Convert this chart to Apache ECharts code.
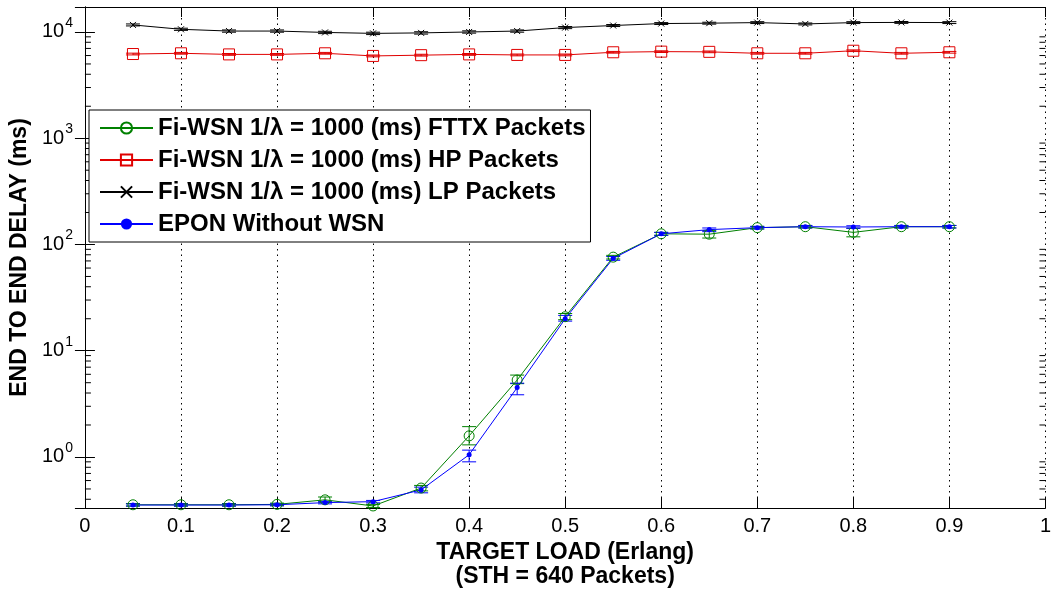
<!DOCTYPE html>
<html><head><meta charset="utf-8">
<script src="https://cdn.jsdelivr.net/npm/echarts@6/dist/echarts.min.js"></script>
<style>html,body{margin:0;padding:0;background:#fff}#c{width:1054px;height:594px}</style>
</head><body><div id="c"></div>
<script>
// ---- data ----
const loads = [0.05,0.1,0.15,0.2,0.25,0.3,0.35,0.4,0.45,0.5,0.55,0.6,0.65,0.7,0.75,0.8,0.85,0.9];
const fttx     = [0.355,0.355,0.355,0.358,0.395,0.346,0.51,1.58,5.3,20.9,76,126,125,144,147,130,147,147];
const fttxLow  = [0.345,0.345,0.345,0.348,0.375,0.335,0.48,1.30,4.9,19.6,73,122,115,140,143,118,143,143];
const fttxHigh = [0.365,0.365,0.365,0.368,0.420,0.358,0.54,1.93,5.9,22.4,79,130,135,148,151,142,151,151];
const hp       = [6200,6300,6150,6150,6300,5950,6050,6150,6080,6080,6440,6530,6500,6300,6300,6660,6300,6440];
const hpErr    = [120,120,120,120,120,120,120,120,120,120,120,120,120,120,120,120,120,120];
const lp       = [11650,10600,10200,10200,9900,9700,9800,10000,10200,11000,11500,12000,12100,12250,11900,12250,12300,12250];
const lpErr    = [250,250,250,250,250,250,250,250,250,250,250,250,250,250,250,250,250,250];
const epon     = [0.353,0.353,0.353,0.355,0.372,0.38,0.49,1.05,4.5,20,74,126,138,144,147,146,147,147];
const eponLow  = [0.345,0.345,0.345,0.347,0.362,0.37,0.46,0.90,3.85,19.0,71,122,132,140,143,142,143,143];
const eponHigh = [0.361,0.361,0.361,0.363,0.382,0.39,0.52,1.16,4.95,21.5,77,130,143,148,151,150,151,151];
const seriesNames = [
  'Fi-WSN 1/\u03bb = 1000 (ms) FTTX Packets',
  'Fi-WSN 1/\u03bb = 1000 (ms) HP Packets',
  'Fi-WSN 1/\u03bb = 1000 (ms) LP Packets',
  'EPON Without WSN'
];
const xTickLabels = ['0','0.1','0.2','0.3','0.4','0.5','0.6','0.7','0.8','0.9','1'];
const yTickExps = [0,1,2,3,4];
const yMinorTicks = [0.4,0.5,0.6,0.7,0.8,0.9,2,3,4,5,6,7,8,9,20,30,40,50,60,70,80,90,200,300,400,500,600,700,800,900,2000,3000,4000,5000,6000,7000,8000,9000];

// ---- helpers ----
const FONT = 'Liberation Sans';
function pairs(ys){ return loads.map((x,i)=>[x, ys[i]]); }
function errData(lo, hi){ return loads.map((x,i)=>[x, lo[i], hi[i]]); }
function errDataSym(ys, e){ return loads.map((x,i)=>[x, ys[i]-e[i], ys[i]+e[i]]); }
function errRender(color){
  return function(params, api){
    const x = api.value(0), lo = api.value(1), hi = api.value(2);
    const p1 = api.coord([x, lo]), p2 = api.coord([x, hi]);
    const w = 7, st = {stroke: color, lineWidth: 1};
    return {type:'group', children:[
      {type:'line', shape:{x1:p1[0],y1:p1[1],x2:p2[0],y2:p2[1]}, style:st},
      {type:'line', shape:{x1:p1[0]-w,y1:p1[1],x2:p1[0]+w,y2:p1[1]}, style:st},
      {type:'line', shape:{x1:p2[0]-w,y1:p2[1],x2:p2[0]+w,y2:p2[1]}, style:st}
    ]};
  };
}
function errSeries(data, color){
  return {type:'custom', data, renderItem: errRender(color), encode:{x:0, y:[1,2]}, silent:true, z:3};
}
function lineSeries(name, ys, color, symbol, size, filled){
  return {type:'line', name, data: pairs(ys), symbol, symbolSize:size, showAllSymbol:true,
    lineStyle:{color, width:1},
    itemStyle: filled ? {color} : {color:'none', borderColor:color, borderWidth:1},
    z:3};
}
const yAxisBase = {
  type:'log', logBase:10, min:0.331, max:17180,
  axisLine:{show:true, lineStyle:{color:'#000', width:1}},
  axisTick:{show:true, inside:true, length:10, lineStyle:{color:'#000', width:1}},
  splitLine:{show:false}, minorTick:{show:false}
};
const xAxisBase = {
  type:'value', min:0, max:1, interval:0.1,
  axisLine:{show:true, onZero:false, lineStyle:{color:'#000', width:1}},
  axisTick:{show:true, inside:true, length:10, lineStyle:{color:'#000', width:1}}
};

const chart = echarts.init(document.getElementById('c'), null, {renderer:'canvas'});
chart.setOption({
  animation:false,
  backgroundColor:'#fff',
  grid:{left:84, right:4, top:7, bottom:86, containLabel:false},
  legend:{
    orient:'vertical', left:89, top:110, padding:[6,5,6,10], itemGap:8,
    itemWidth:53, itemHeight:14, backgroundColor:'#fff', borderColor:'#000', borderWidth:1, borderRadius:0,
    textStyle:{fontFamily:FONT, fontWeight:'bold', fontSize:24, color:'#000', lineHeight:20},
    data: seriesNames
  },
  xAxis:[
    Object.assign({}, xAxisBase, {
      position:'bottom',
      axisLabel:{margin:8, fontSize:20, color:'#000', fontFamily:FONT,
        formatter: v => xTickLabels[Math.round(v*10)]},
      splitLine:{show:true, lineStyle:{color:'#000', type:[1.5,4], width:1}},
      name:'TARGET LOAD (Erlang)\n(STH = 640 Packets)', nameLocation:'middle', nameGap:33,
      nameTextStyle:{fontSize:23, fontWeight:'bold', color:'#000', lineHeight:24, fontFamily:FONT}
    }),
    Object.assign({}, xAxisBase, {position:'top', axisLabel:{show:false}, splitLine:{show:false}})
  ],
  yAxis:[
    Object.assign({}, yAxisBase, {
      position:'left',
      axisLabel:{margin:12, padding:[0,0,6,0],
        formatter: v => {
          const e = Math.round(Math.log10(v));
          if (Math.abs(Math.log10(v) - e) > 1e-6 || yTickExps.indexOf(e) < 0) return '';
          return '{b|10}{s|' + e + '}';
        },
        rich:{
          b:{fontSize:20, color:'#000', fontFamily:FONT, padding:[6,0,0,0], verticalAlign:'bottom'},
          s:{fontSize:14, color:'#000', fontFamily:FONT, verticalAlign:'top', padding:[0,0,0,1]}
        }},
      name:'END TO END DELAY (ms)', nameLocation:'middle', nameGap:52,
      nameTextStyle:{fontSize:23, fontWeight:'bold', color:'#000', fontFamily:FONT}
    }),
    Object.assign({}, yAxisBase, {position:'right', axisLabel:{show:false}})
  ],
  series:[
    {type:'custom', silent:true, z:1, data: yMinorTicks.map(v=>[0, v]), encode:{x:0, y:1},
      renderItem:(params, api)=>{
        const v = api.value(1);
        const pl = api.coord([0, v]), pr = api.coord([1, v]);
        const st = {stroke:'#000', lineWidth:1};
        return {type:'group', children:[
          {type:'line', shape:{x1:pl[0], y1:pl[1], x2:pl[0]+6, y2:pl[1]}, style:st},
          {type:'line', shape:{x1:pr[0]-6, y1:pr[1], x2:pr[0], y2:pr[1]}, style:st}
        ]};
      }},
    lineSeries(seriesNames[0], fttx, '#008000', 'circle', 10, false),
    errSeries(errData(fttxLow, fttxHigh), '#008000'),
    lineSeries(seriesNames[1], hp, '#e00000', 'rect', 11, false),
    errSeries(errDataSym(hp, hpErr), '#e00000'),
    lineSeries(seriesNames[2], lp, '#000000', 'path://M0,0L10,10M10,0L0,10', 6, false),
    errSeries(errDataSym(lp, lpErr), '#000000'),
    lineSeries(seriesNames[3], epon, '#0000ff', 'circle', 5, true),
    errSeries(errData(eponLow, eponHigh), '#0000ff')
  ]
});
</script>
</body></html>
